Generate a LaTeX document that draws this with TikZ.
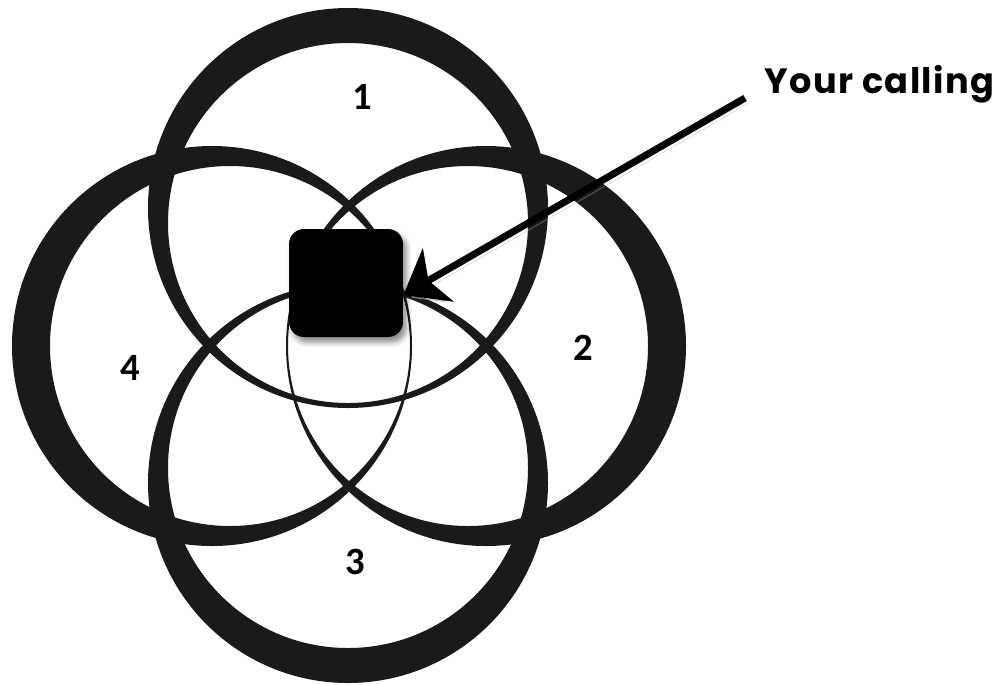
\documentclass[tikz,border=0pt]{standalone}
\usepackage{fontspec}
\newfontfamily\gothicfont[LetterSpace=4]{Poppins}
\newfontfamily\digitfont{Carlito}
\usepackage{tikz}
\usetikzlibrary{positioning, arrows.meta, calc, shadows.blur}

\definecolor{ringgray}{HTML}{1A1A1A}

\tikzset{
    ring/.style={fill=ringgray, even odd rule},
    petal/.style={font=\digitfont\bfseries\fontsize{22}{22}\selectfont, text=black},
    corebox/.style={fill=black, rounded corners=0.3cm, minimum width=2.28cm, minimum height=2.16cm,
        blur shadow={shadow xshift=2pt, shadow yshift=-3pt, shadow blur radius=3pt, shadow opacity=45}},
    callarrow/.style={draw=black, line width=0.14cm, -{Stealth[length=0.8cm, width=1.22cm, inset=0.22cm]},
        preaction={draw=black!30, opacity=0.5, transform canvas={shift={(2pt,-3pt)}}}}
}

\begin{document}
\begin{tikzpicture}[x=0.02cm, y=-0.02cm]
    \useasboundingbox (0,0) rectangle (1006,684);
    % the four rings, thick on the outer side
    \foreach \ox/\oy/\ix/\iy in {348/208/348/223, 486/346/468/346, 348/483/348/468, 212/346/230/346}
        \fill[ring] (\ox,\oy) circle (200) (\ix,\iy) circle (180);
    \node[petal] (one) at (362,97) {1};
    \node[petal] (two) at (583,348) {2};
    \node[petal] (three) at (355,562) {3};
    \node[petal] (four) at (130,368) {4};
    \node[corebox] (core) at (346,283) {};
    \node[anchor=west, inner sep=0pt, font=\gothicfont\bfseries\fontsize{20}{20}\selectfont] (calling) at (764,84) {Your calling};
    \draw[callarrow] ($(calling.west)+(-19,14)$) -- ($(core.east)+(0,12)$);
\end{tikzpicture}
\end{document}
